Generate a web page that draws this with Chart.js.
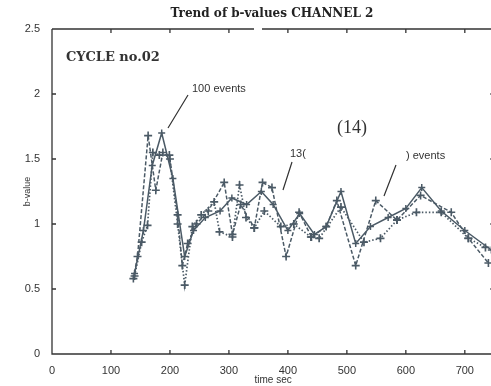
<!DOCTYPE html>
<html>
<head>
<meta charset="utf-8">
<script src="https://cdn.jsdelivr.net/npm/chart.js@4/dist/chart.umd.min.js"></script>
<style>
  html, body { margin: 0; padding: 0; background: #fff; overflow: hidden; }
  #wrap { width: 500px; height: 386px; }
</style>
</head>
<body>
<div id="wrap"><canvas id="myChart" width="500" height="386"></canvas></div>
<script>
// x ticks (time sec) and y ticks (b-value)
const xTicks = [0, 100, 200, 300, 400, 500, 600, 700];
const yTicks = [0, 0.5, 1, 1.5, 2, 2.5];

// three b-value curves
const solidTime = [140, 155, 170, 186, 205, 225, 240, 260, 285, 305, 330, 355, 375, 400, 420, 445, 465, 490, 515, 540, 570, 600, 627, 660, 700, 745];
const solidB    = [0.62, 0.95, 1.45, 1.70, 1.35, 0.75, 0.95, 1.05, 1.10, 1.20, 1.15, 1.25, 1.15, 0.95, 1.08, 0.92, 0.98, 1.25, 0.85, 0.98, 1.05, 1.12, 1.28, 1.10, 0.95, 0.80];

const dashTime = [138, 145, 163, 176, 188, 200, 213, 221, 230, 245, 265, 292, 306, 320, 343, 357, 373, 397, 419, 440, 465, 483, 515, 549, 585, 625, 677, 706, 740];
const dashB    = [0.58, 0.75, 1.68, 1.26, 1.55, 1.50, 1.07, 0.68, 0.85, 1.00, 1.10, 1.32, 0.92, 1.15, 0.97, 1.32, 1.28, 0.75, 1.09, 0.90, 0.98, 1.18, 0.68, 1.18, 1.03, 1.22, 1.09, 0.89, 0.70];

const dotTime = [140, 152, 162, 171, 182, 199, 213, 225, 238, 253, 275, 284, 306, 318, 329, 343, 360, 388, 410, 439, 453, 490, 529, 557, 585, 618, 660, 706, 735];
const dotB    = [0.60, 0.86, 0.99, 1.55, 1.53, 1.53, 1.00, 0.53, 0.98, 1.07, 1.17, 0.94, 0.90, 1.30, 1.05, 0.97, 1.10, 0.98, 1.00, 0.90, 0.89, 1.13, 0.86, 0.89, 1.03, 1.09, 1.09, 0.89, 0.82];

const toPoints = (xs, ys) => xs.map((x, i) => ({ x: x, y: ys[i] }));

const ink = '#4b5a66';

// frame with inward ticks, title and the hand-written notes
const framePlugin = {
  id: 'frame',
  afterDraw(chart) {
    const ctx = chart.ctx;
    const a = chart.chartArea;
    const xs = chart.scales.x, ys = chart.scales.y;
    ctx.save();
    ctx.strokeStyle = '#333';
    ctx.lineWidth = 1.3;
    ctx.beginPath();
    ctx.moveTo(a.left, a.top); ctx.lineTo(a.left, a.bottom); ctx.lineTo(a.right, a.bottom); ctx.lineTo(a.right, a.top);
    ctx.moveTo(a.left, a.top); ctx.lineTo(a.left + 202, a.top);
    ctx.moveTo(a.left + 210, a.top); ctx.lineTo(a.right, a.top);
    xTicks.forEach(t => {
      const px = xs.getPixelForValue(t);
      ctx.moveTo(px, a.bottom); ctx.lineTo(px, a.bottom - 4);
      ctx.moveTo(px, a.top); ctx.lineTo(px, a.top + 4);
    });
    yTicks.forEach(t => {
      const py = ys.getPixelForValue(t);
      ctx.moveTo(a.left, py); ctx.lineTo(a.left + 4, py);
      ctx.moveTo(a.right, py); ctx.lineTo(a.right - 4, py);
    });
    ctx.stroke();

    ctx.fillStyle = '#222';
    ctx.textBaseline = 'middle';
    ctx.textAlign = 'center';
    ctx.font = 'bold 12px "DejaVu Serif"';
    ctx.fillText('Trend of b-values CHANNEL 2', 272, 14);
    ctx.textAlign = 'left';
    ctx.fillStyle = '#333';
    ctx.font = 'bold 13px "DejaVu Serif"';
    ctx.fillText('CYCLE no.02', 66, 58);
    ctx.font = '11px "Liberation Sans"';
    ctx.fillText('100 events', 192, 89);
    ctx.fillText('13(', 290, 154);
    ctx.fillText(') events', 406, 156);
    ctx.font = '18px "Liberation Serif"';
    ctx.fillText('(14)', 337, 128);

    ctx.lineWidth = 1.2;
    ctx.beginPath();
    ctx.moveTo(188, 95); ctx.lineTo(168, 128);
    ctx.moveTo(292, 162); ctx.lineTo(283, 190);
    ctx.moveTo(396, 165); ctx.lineTo(384, 196);
    ctx.stroke();
    ctx.restore();
  }
};

const ctx = document.getElementById('myChart').getContext('2d');
new Chart(ctx, {
  type: 'line',
  data: {
    datasets: [
      { label: 'solid', data: toPoints(solidTime, solidB), borderColor: ink, borderWidth: 1.5,
        pointStyle: 'cross', pointRadius: 3.5, pointBorderWidth: 1.5, pointBorderColor: ink, fill: false, tension: 0 },
      { label: 'dashed', data: toPoints(dashTime, dashB), borderColor: ink, borderWidth: 1.5, borderDash: [4, 2],
        pointStyle: 'cross', pointRadius: 4, pointBorderWidth: 1.6, pointBorderColor: ink, fill: false, tension: 0 },
      { label: 'dotted', data: toPoints(dotTime, dotB), borderColor: ink, borderWidth: 1.7, borderDash: [1.5, 2],
        pointStyle: 'cross', pointRadius: 4, pointBorderWidth: 1.7, pointBorderColor: ink, fill: false, tension: 0 }
    ]
  },
  plugins: [framePlugin],
  options: {
    responsive: false,
    animation: false,
    layout: { padding: { left: 22, right: 4, top: 29, bottom: 0 } },
    plugins: {
      legend: { display: false },
      tooltip: { enabled: false },
      title: { display: false }
    },
    scales: {
      x: {
        type: 'linear', min: 0, max: 750,
        afterBuildTicks: s => { s.ticks = xTicks.map(v => ({ value: v })); },
        afterFit: s => { s.height = 32; },
        grid: { display: false }, border: { display: false },
        ticks: { color: '#333', font: { family: 'Liberation Sans', size: 11 }, padding: 2, maxRotation: 0 },
        title: { display: true, text: 'time sec', color: '#333', font: { family: 'Liberation Sans', size: 10 }, padding: 0 }
      },
      y: {
        type: 'linear', min: 0, max: 2.5,
        afterBuildTicks: s => { s.ticks = yTicks.map(v => ({ value: v })); },
        afterFit: s => { s.width = 30; },
        grid: { display: false }, border: { display: false },
        ticks: { color: '#333', font: { family: 'Liberation Sans', size: 11 }, padding: 4,
                 callback: v => String(v) },
        title: { display: true, text: 'b-value', color: '#333', font: { family: 'Liberation Sans', size: 9 }, padding: 0 }
      }
    }
  }
});
</script>
</body>
</html>
